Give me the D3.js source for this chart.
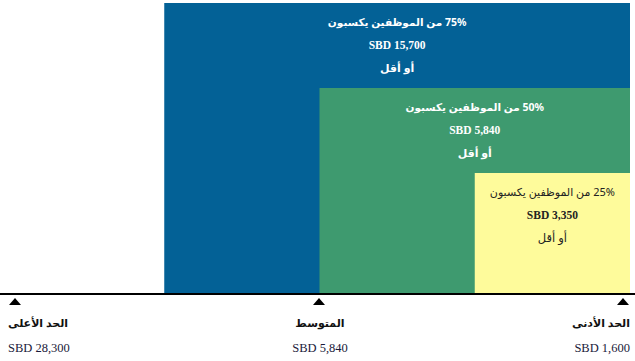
<!DOCTYPE html>
<html><head><meta charset="utf-8">
<script src="https://cdn.jsdelivr.net/npm/d3@7"></script>
<style>body{margin:0;background:#fff}svg{display:block}</style>
</head><body><svg id="c" width="635" height="361"></svg>
<script>
const percentiles = [75, 50, 25];
const percentileValues = ["15,700", "5,840", "3,350"];
const topLines = ["75% من الموظفين يكسبون", "50% من الموظفين يكسبون", "25% من الموظفين يكسبون"];
const bottomLine = "أو أقل";
const boxColors = ["#036196", "#3e9a6f", "#fefb9b"];
const textColors = ["#ffffff", "#ffffff", "#222222"];
const markerLabels = ["الحد الأعلى", "المتوسط", "الحد الأدنى"];
const markerValues = ["SBD 28,300", "SBD 5,840", "SBD 1,600"];

const svg = d3.select("#c");
const x = d3.scaleLinear().domain([100, 0]).range([9, 630]);
const y = d3.scaleLinear().domain([25, 75]).range([173, 3]);
const baseY = 293;

const data = percentiles.map((p, i) => ({p, v: percentileValues[i], t: topLines[i], c: boxColors[i], tc: textColors[i], i}));

svg.selectAll("rect.box").data(data).enter().append("rect")
  .attr("x", d => x(d.p)).attr("y", d => y(d.p))
  .attr("width", d => x(0) - x(d.p)).attr("height", d => baseY - y(d.p))
  .attr("fill", d => d.c);

const g = svg.selectAll("g.lbl").data(data).enter().append("g")
  .attr("transform", d => `translate(${(x(d.p) + x(0)) / 2},${y(d.p)})`)
  .attr("fill", d => d.tc);
const arFont = "'Noto Sans','DejaVu Sans',sans-serif";
g.append("text").attr("y", 23).attr("text-anchor", "middle").attr("direction", "rtl")
  .style("font-family", arFont).style("font-size", d => d.i < 2 ? "10.5px" : "11px")
  .style("font-weight", d => d.i < 2 ? "bold" : "normal").text(d => d.t);
g.append("text").attr("y", 46).attr("text-anchor", "middle")
  .style("font-family", "'Liberation Serif','DejaVu Serif',serif").style("font-size", "11.5px")
  .style("font-weight", "bold").text(d => "SBD " + d.v);
g.append("text").attr("y", 69).attr("text-anchor", "middle").attr("direction", "rtl")
  .style("font-family", arFont).style("font-size", d => d.i < 2 ? "11px" : "11.5px")
  .style("font-weight", d => d.i < 2 ? "bold" : "normal").text(bottomLine);

svg.append("line").attr("x1", 0).attr("x2", 635).attr("y1", baseY + 1).attr("y2", baseY + 1)
  .attr("stroke", "#000").attr("stroke-width", 2);

const mx = d3.scalePoint().domain(markerLabels).range([15, 623]);
const anchors = ["start", "middle", "end"];
const textX = [8, 320, 630];
const mg = svg.selectAll("g.m").data(markerLabels).enter().append("g");
mg.append("path")
  .attr("d", d => { const cx = mx(d); return `M${cx - 6},305L${cx},298L${cx + 6},305Z`; })
  .attr("fill", "#000");
mg.append("text").attr("x", (d, i) => textX[i]).attr("y", 327)
  .attr("text-anchor", (d, i) => anchors[i])
  .style("font-family", arFont).style("font-size", "11px").style("font-weight", "bold")
  .attr("fill", "#111").text(d => d);
mg.append("text").attr("x", (d, i) => textX[i]).attr("y", 352)
  .attr("text-anchor", (d, i) => anchors[i])
  .style("font-family", "'Liberation Serif','DejaVu Serif',serif").style("font-size", "12.5px")
  .attr("fill", "#1a1a3a").text((d, i) => markerValues[i]);
</script></body></html>
